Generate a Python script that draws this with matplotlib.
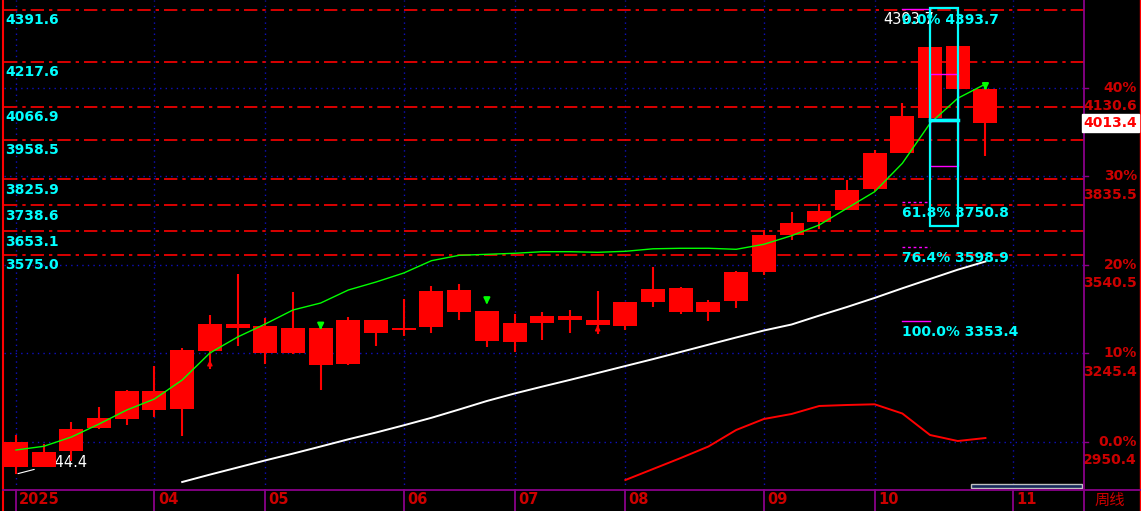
import numpy as np
import matplotlib.pyplot as plt
from matplotlib.patches import Rectangle
from matplotlib.lines import Line2D
from matplotlib.transforms import blended_transform_factory

# weekly candles (body top / body bottom / high / low)
body_hi = [2949.9, 2916.5, 2993.2, 3030.9, 3120.9, 3120.0, 3256.7, 3343.4, 3343.4, 3336.7,
           3330.1, 3330.1, 3356.7, 3356.7, 3330.1, 3453.5, 3456.8, 3386.8, 3346.7, 3370.1,
           3370.1, 3356.7, 3416.8, 3460.1, 3463.5, 3416.8, 3516.8, 3640.2, 3680.2, 3720.2,
           3790.3, 3913.7, 4037.1, 4267.2, 4270.5, 4127.1]
body_lo = [2867.5, 2867.5, 2920.9, 2997.6, 3026.6, 3057.6, 3060.9, 3254.4, 3331.1, 3247.7,
           3247.7, 3207.7, 3211.0, 3314.4, 3323.4, 3334.4, 3384.4, 3287.7, 3284.4, 3347.7,
           3356.7, 3340.1, 3336.7, 3416.8, 3383.4, 3383.4, 3420.1, 3516.8, 3640.2, 3683.6,
           3723.6, 3793.6, 3914.7, 4031.4, 4127.1, 4013.4]
high = [2973.2, 2943.2, 3016.6, 3066.6, 3124.3, 3203.3, 3263.4, 3373.4, 3510.1, 3363.4,
        3450.1, 3330.1, 3366.7, 3356.7, 3426.8, 3470.1, 3476.8, 3386.8, 3376.7, 3383.4,
        3390.1, 3453.5, 3416.8, 3533.5, 3466.8, 3423.4, 3520.2, 3656.9, 3716.9, 3743.6,
        3823.6, 3923.7, 4079.4, 4393.7, 4275.0, 4140.4]
low = [2844.4, 2867.5, 2887.5, 2993.2, 3006.6, 3033.2, 2970.9, 3194.3, 3270.0, 3211.0,
       3244.3, 3124.3, 3207.7, 3270.0, 3304.4, 3314.4, 3356.7, 3267.7, 3251.0, 3291.0,
       3314.4, 3311.0, 3323.4, 3400.1, 3376.7, 3353.4, 3396.8, 3506.8, 3623.5, 3660.2,
       3723.6, 3787.0, 3913.7, 4025.0, 4127.1, 3904.7]

ma_green = [2923.2, 2935.5, 2966.5, 3009.9, 3056.6, 3093.3, 3156.6, 3246.7, 3300.0, 3343.4,
            3390.1, 3413.4, 3456.8, 3483.5, 3513.5, 3554.5, 3572.5, 3575.8, 3579.2, 3584.5,
            3584.5, 3582.5, 3585.8, 3594.2, 3595.9, 3595.9, 3592.5, 3609.2, 3637.9, 3673.6,
            3729.3, 3784.6, 3879.3, 4012.7, 4096.1, 4143.8]
ma_white = [2816.5, 2841.1, 2864.8, 2888.5, 2911.2, 2934.9, 2958.9, 2981.5, 3005.6, 3030.6,
            3058.3, 3086.6, 3111.6, 3134.6, 3157.0, 3180.0, 3203.3, 3226.3, 3250.3, 3274.4,
            3298.4, 3321.7, 3341.7, 3371.4, 3400.1, 3430.4, 3462.5, 3493.5, 3524.5, 3551.8]
white_start = 6
red_line = [2823.1, 2859.8, 2896.5, 2934.9, 2989.9, 3026.6, 3043.3, 3070.0, 3073.3, 3075.6,
            3044.9, 2973.2, 2953.2, 2963.2]
red_start = 22

down_marks = [11, 17, 35]
down_tips = [3314.4, 3399.1, 4113.2]
up_marks = [7, 21]
up_tips = [3223.3, 3340.1]

levels = [4391.6, 4217.6, 4066.9, 3958.5, 3825.9, 3738.6, 3653.1, 3575.0]

base = 2950.4
pcts = [0, 10, 20, 30, 40]
pct_labels = ["0.0%", "10%", "20%", "30%", "40%"]

fib_hi, fib_lo = 4393.7, 3353.4
fib_ratios = [0.0, 0.618, 0.764, 1.0]
box_top, box_bot = 4396.3, 3670.2
mag_boxes = [(4027.1, 4177.1), (3870.3, 4020.4)]
mid_line = 4025.0

month_pos = [0, 5, 9, 14, 18, 22, 27, 31, 36]
month_labels = ["2025", "04", "05", "06", "07", "08", "09", "10", "11"]

last_price = 4013.4
low_mark, high_mark = 2844.4, 4393.7

W, H = 1141, 511
RED = '#ff0000'
DRED = '#cc0000'
CYAN = '#00ffff'
PURPLE = '#8a008a'
BLUE = '#1010c0'

fig = plt.figure(figsize=(W / 100, H / 100), dpi=100, facecolor='black')
ax = fig.add_axes([4 / W, 21 / H, 1079.5 / W, 490 / H])
ax.set_facecolor('black')
ax.set_xlim(-0.433, 38.54)
ax.set_ylim(2789.8, 4423.9)
ax.axis('off')

x = np.arange(len(body_hi))

# grid
pct_prices = [base * (1 + p / 100) for p in pcts]
for p in pct_prices:
    ax.axhline(p, color=BLUE, lw=1, ls=(0, (1, 3)), zorder=0)
for m in month_pos:
    ax.axvline(m, color=BLUE, lw=1, ls=(0, (1, 3)), zorder=0)

# level lines
lab_tr = blended_transform_factory(ax.transAxes, ax.transData)
for lv in levels:
    ax.axhline(lv, color=RED, lw=1.2, ls=(0, (8, 3, 2, 3)), zorder=1)
    ax.annotate(f"{lv:.1f}", xy=(0.001, lv), xycoords=lab_tr, xytext=(0, -7.5),
                textcoords='offset points', va='center', ha='left', color=CYAN,
                fontsize=10, fontweight='bold', zorder=7)

# moving averages
ax.plot(np.arange(white_start, white_start + len(ma_white)), ma_white, color='white', lw=1.4, zorder=2)
ax.plot(np.arange(red_start, red_start + len(red_line)), red_line, color=RED, lw=1.4, zorder=2)

# low label
ax.annotate(f"{low_mark:.1f}", xy=(0.07, low_mark), xytext=(0.76, 2883), color='white',
            fontsize=10.5, va='center', ha='left', zorder=1,
            arrowprops=dict(arrowstyle='-', color='white', lw=0.8, shrinkA=0, shrinkB=0))

# candles
ax.vlines(x, low, high, color=RED, lw=1.5, zorder=3)
ax.bar(x, np.array(body_hi) - np.array(body_lo), bottom=body_lo, width=0.866,
       color=RED, zorder=3)
ax.plot(x, ma_green, color='#00ff00', lw=1, zorder=4)

for m, t in zip(down_marks, down_tips):
    ax.annotate('', xy=(m, t), xytext=(m, t + 30),
                arrowprops=dict(arrowstyle='-|>', color='#00ff00', lw=1.5, mutation_scale=9), zorder=5)
for m, t in zip(up_marks, up_tips):
    ax.annotate('', xy=(m, t), xytext=(m, t - 15),
                arrowprops=dict(arrowstyle='-|>', color=RED, lw=1.2, mutation_scale=7), zorder=5)

# high label (under fib text)
ax.annotate(f"{high_mark:.1f}", xy=(31.3, fib_hi), xytext=(0, -7.7), textcoords='offset points',
            va='center', ha='left', color='white', fontsize=10.5, zorder=5)

# fibonacci drawing
for r in fib_ratios:
    lv = fib_hi - r * (fib_hi - fib_lo)
    ls = '-' if r in (0.0, 1.0) else (0, (2, 2))
    ax.plot([32, 33], [lv, lv], color='#ff00ff', lw=1, ls=ls, zorder=5)
    ax.annotate(f"{r * 100:.1f}% {lv:.1f}", xy=(32, lv), xytext=(0, -7.7), textcoords='offset points',
                va='center', ha='left', color=CYAN, fontsize=10, fontweight='bold', zorder=8)
for lo_, hi_ in mag_boxes:
    ax.add_patch(Rectangle((33, lo_), 1, hi_ - lo_, fill=False, ec='#ff00ff', lw=1, zorder=6))
ax.plot([33, 34], [mid_line, mid_line], color=CYAN, lw=2.5, zorder=6)
ax.add_patch(Rectangle((33, box_bot), 1, box_top - box_bot, fill=False, ec=CYAN, lw=1.6, zorder=7))

# frame lines
fig.add_artist(Line2D([3 / W, 3 / W], [0, 1], color=RED, lw=1.5))
fig.add_artist(Line2D([1140 / W, 1140 / W], [0, 1], color=RED, lw=1))
fig.add_artist(Line2D([1083.5 / W, 1083.5 / W], [0, 1], color=PURPLE, lw=1.3))
fig.add_artist(Line2D([3 / W, 1], [21 / H, 21 / H], color=PURPLE, lw=1.3))

# right axis
rt = blended_transform_factory(fig.transFigure, ax.transData)
for p, lab in zip(pct_prices, pct_labels):
    fig.add_artist(Line2D([1083.5 / W, 1088 / W], [p, p], transform=rt, color=PURPLE, lw=1))
    fig.text(1137 / W, p, lab, transform=rt, ha='right', va='center', color=DRED,
             fontsize=10, fontweight='bold')
    ax.annotate(f"{p:.1f}", xy=(1137 / W, p), xycoords=rt, xytext=(0, -13.3),
                textcoords='offset points', ha='right', va='center', color=DRED,
                fontsize=10, fontweight='bold', annotation_clip=False)
fig.text(1137 / W, last_price, f"{last_price:.1f}", transform=rt, ha='right', va='center',
         color=RED, fontsize=10, fontweight='bold',
         bbox=dict(boxstyle='square,pad=0.12', fc='white', ec='white'))

# bottom axis
bt = blended_transform_factory(ax.transData, fig.transFigure)
for m, lab in zip(month_pos, month_labels):
    fig.add_artist(Line2D([m, m], [0, 21 / H], transform=bt, color=PURPLE, lw=1.3))
    fig.text(m + 0.12, 1 - 500 / H, lab, transform=bt, ha='left', va='center', color=DRED,
             fontsize=10.5, fontweight='bold')
fig.text(1110 / W, 1 - 500 / H, "周线", ha='center', va='center', color=DRED, fontsize=11,
         family=['Noto Sans CJK SC', 'DejaVu Sans'])

# scroll bar
fig.add_artist(Rectangle((971 / W, 1 - 488 / H), 111 / W, 4 / H, transform=fig.transFigure,
                         fc='#14285a', ec='#c0c0c0', lw=1))

fig.savefig('out.png', dpi=100, facecolor='black')
